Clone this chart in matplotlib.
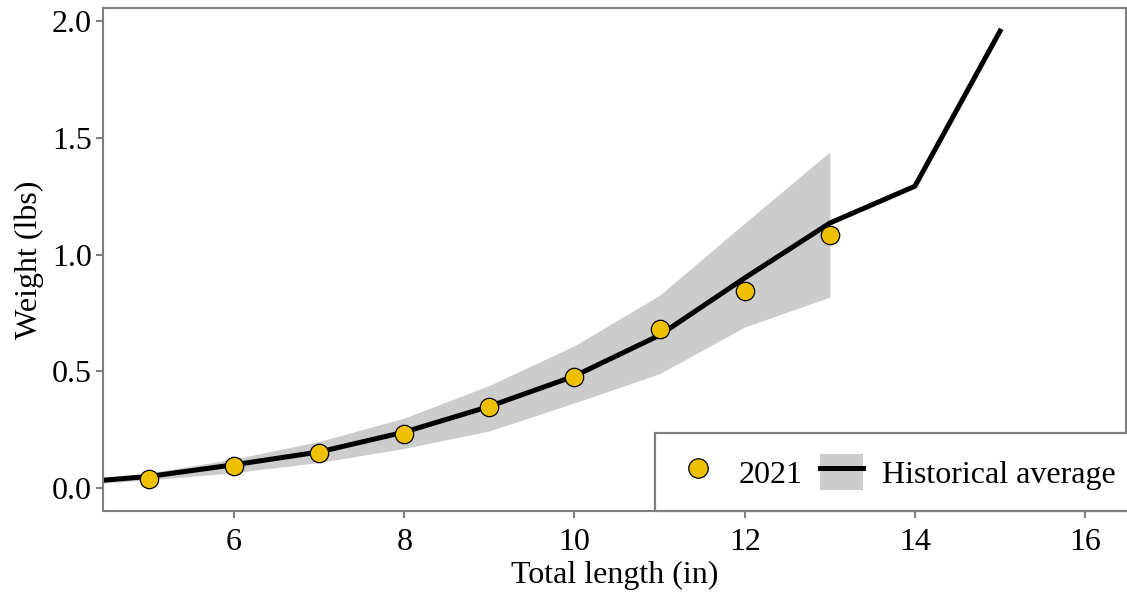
import matplotlib.pyplot as plt
from matplotlib.patches import Patch
from matplotlib.lines import Line2D

plt.rcParams['font.family'] = ['Liberation Serif', 'DejaVu Serif']

# historical average by total length
hist_len = [4, 5, 6, 7, 8, 9, 10, 11, 12, 13, 14, 15]
hist_wt = [0.02, 0.05, 0.10, 0.155, 0.24, 0.35, 0.48, 0.655, 0.90, 1.135, 1.293, 1.957]

# range band around historical average
band_len = [4, 5, 6, 7, 8, 9, 10, 11, 12, 13]
band_lo = [0.01, 0.035, 0.066, 0.11, 0.17, 0.245, 0.365, 0.49, 0.69, 0.818]
band_hi = [0.03, 0.065, 0.125, 0.20, 0.30, 0.44, 0.61, 0.826, 1.135, 1.44]

# 2021 observations
obs_len = [5, 6, 7, 8, 9, 10, 11, 12, 13]
obs_wt = [0.039, 0.096, 0.15, 0.231, 0.347, 0.476, 0.681, 0.845, 1.084]

gray = '#7f7f7f'
gold = '#EEC000'
fs = 23

fig = plt.figure(figsize=(11.27, 5.92), dpi=100)
ax = fig.add_axes([0.0914, 0.1368, 0.9077, 0.8497])

ax.fill_between(band_len, band_lo, band_hi, color='#cccccc', lw=0, zorder=1)
ax.plot(hist_len, hist_wt, color='black', lw=3.6, zorder=2)
ax.scatter(obs_len, obs_wt, s=175, color=gold, edgecolor='black', lw=0.9, zorder=3)

ax.set_xlim(4.46, 16.48)
ax.set_ylim(-0.098, 2.056)
ax.set_xticks([6, 8, 10, 12, 14, 16])
ax.set_yticks([0.0, 0.5, 1.0, 1.5, 2.0])
ax.set_yticklabels(['0.0', '0.5', '1.0', '1.5', '2.0'])

for s in ax.spines.values():
    s.set_color(gray)
    s.set_linewidth(1.5)
ax.tick_params(colors=gray, width=1.5, length=5, labelsize=fs, labelcolor='black', pad=3)
ax.tick_params(axis='x', pad=7)

ax.set_xlabel('Total length (in)', fontsize=fs, labelpad=3)
ax.set_ylabel('Weight (lbs)', fontsize=fs, labelpad=6)

h_obs = Line2D([], [], marker='o', ls='none', markersize=14, markerfacecolor=gold,
               markeredgecolor='black', markeredgewidth=0.9)
h_hist = (Patch(facecolor='#cccccc', edgecolor='none'),
          Line2D([], [], color='black', lw=3.6))
leg = ax.legend([h_obs, h_hist], ['2021', 'Historical average'], ncol=2,
                loc='lower right', bbox_to_anchor=(1.011, 0.0), borderaxespad=0,
                fontsize=fs, frameon=True, fancybox=False, framealpha=1,
                edgecolor=gray, handlelength=1.35, handleheight=1.35,
                columnspacing=0.55, handletextpad=0.6, borderpad=0.66)
leg.get_frame().set_linewidth(1.6)
leg.set_zorder(5)

fig.savefig('out.png', dpi=100)
